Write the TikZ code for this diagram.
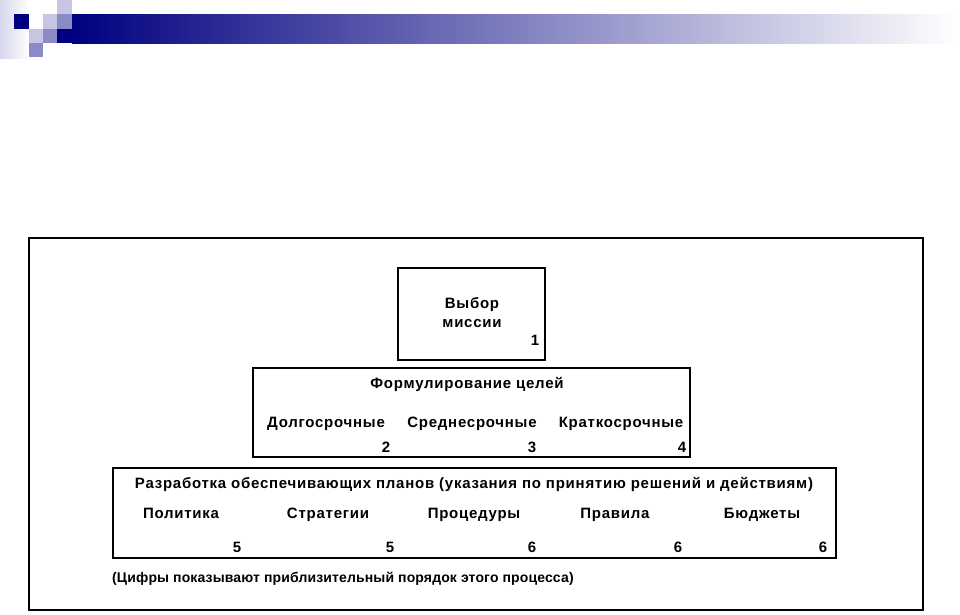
\documentclass[tikz,border=0pt]{standalone}
\usepackage{fontspec}
\setmainfont{Liberation Sans}[LetterSpace=5]
\newfontfamily\notefont{Liberation Sans}[LetterSpace=1]
\definecolor{navyblue}{RGB}{0,0,128}
\definecolor{lavmid}{RGB}{138,138,198}
\definecolor{lavlight}{RGB}{198,198,226}
\definecolor{lavpale}{RGB}{214,214,236}

\begin{document}
\begin{tikzpicture}[x=1pt,y=-1pt,font=\fontsize{15}{17}\selectfont\bfseries]
  \tikzstyle{box}=[rectangle,draw=black,line width=1.6pt,inner sep=0pt]
  \tikzstyle{word}=[inner sep=0pt,anchor=base]
  \tikzstyle{num}=[word]
  \useasboundingbox (0,0) rectangle (960,614);

  % header strip
  \shade [left color=lavpale,right color=white] (0,0) rectangle (29,58);
  \fill [navyblue] (14,14) rectangle (29,29);
  \fill [lavlight] (57,0) rectangle (72,14);
  \fill [lavlight] (43,14) rectangle (57,29);
  \fill [lavmid]   (57,14) rectangle (72,29);
  \fill [lavlight] (29,29) rectangle (43,43);
  \fill [lavmid]   (43,29) rectangle (57,43);
  \fill [navyblue] (57,29) rectangle (72,43);
  \fill [lavmid]   (29,43) rectangle (43,57);
  \shade [left color=navyblue,right color=white] (72,14) rectangle (960,43);

  % frame and the three levels
  \node [box,minimum width=894pt,minimum height=372pt] (frame) at (476,424) {};
  \node [box,minimum width=147pt,minimum height=92pt] (mission) at (471.5,314) {};
  \node [box,minimum width=437pt,minimum height=89pt] (goals) at (471.5,412.5) {};
  \node [box,minimum width=723pt,minimum height=90pt] (plans) at (474.5,513) {};

  \node [word] (choice) at (472,308) {Выбор};
  \node [word] (missionw) at (472,327) {миссии};
  \node [num] (n1) at (535,345) {1};

  \node [word] (goaltitle) at (467,388) {Формулирование целей};
  \node [word] (long) at (326,427) {Долгосрочные};
  \node [word] (medium) at (472,427) {Среднесрочные};
  \node [word] (short) at (621,427) {Краткосрочные};
  \node [num] (n2) at (386,452) {2};
  \node [num] (n3) at (532,452) {3};
  \node [num] (n4) at (682,452) {4};

  \node [word] (plantitle) at (474,488)
    {Разработка обеспечивающих планов (указания по принятию решений и действиям)};
  \node [word] (policy) at (181,518) {Политика};
  \node [word] (strategy) at (328,518) {Стратегии};
  \node [word] (procedure) at (474,518) {Процедуры};
  \node [word] (rules) at (615,518) {Правила};
  \node [word] (budget) at (762,518) {Бюджеты};
  \node [num] (n5a) at (237,552) {5};
  \node [num] (n5b) at (390,552) {5};
  \node [num] (n6a) at (532,552) {6};
  \node [num] (n6b) at (678,552) {6};
  \node [num] (n6c) at (823,552) {6};

  \node [word,anchor=base west,font=\notefont\fontsize{14}{16}\selectfont\bfseries] (note)
    at (112,582) {(Цифры показывают приблизительный порядок этого процесса)};
\end{tikzpicture}
\end{document}
